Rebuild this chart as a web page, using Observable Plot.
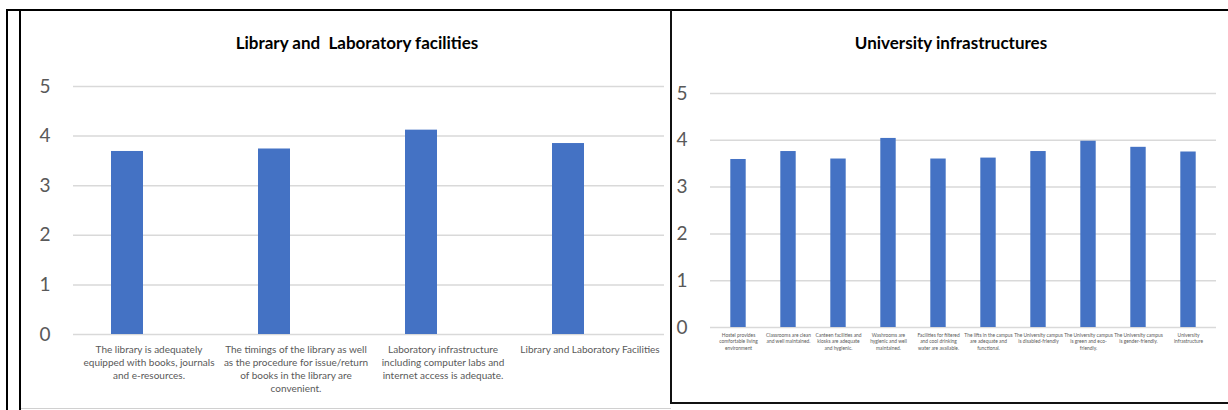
<!DOCTYPE html>
<html>
<head>
<meta charset="utf-8">
<script src="https://cdn.jsdelivr.net/npm/d3@7"></script>
<script src="https://cdn.jsdelivr.net/npm/@observablehq/plot@0.6"></script>
<style>
  html, body { margin: 0; padding: 0; background: #fff; }
  #wrap { position: relative; width: 1228px; height: 410px; overflow: hidden; font-family: Lato, "Noto Sans", sans-serif; }
  .ln { position: absolute; }
  .title { position: absolute; font-weight: bold; color: #000; white-space: pre; transform: translateX(-50%); font-family: Lato, "Noto Sans", sans-serif; }
  .panel { position: absolute; }
</style>
</head>
<body>
<div id="wrap">
  <div class="ln" style="left:6px;top:9px;width:1222px;height:2px;background:#000"></div>
  <div class="ln" style="left:6px;top:9px;width:2px;height:401px;background:#000"></div>
  <div class="ln" style="left:19px;top:9px;width:2px;height:401px;background:#000"></div>
  <div class="ln" style="left:21px;top:408px;width:650px;height:1px;background:#d0d0d0"></div>
  <div class="ln" style="left:670px;top:10px;width:2px;height:394px;background:#111"></div>
  <div class="ln" style="left:670px;top:402px;width:558px;height:2px;background:#111"></div>
  <div class="title" style="left:357px;top:32px;font-size:17px">Library and  Laboratory facilities</div>
  <div class="title" style="left:951px;top:32px;font-size:17px">University infrastructures</div>
  <div class="panel" id="left" style="left:21px;top:11px"></div>
  <div class="panel" id="right" style="left:672px;top:11px"></div>
</div>
<script>
// ---- data ----
const libCategories = [
  "The library is adequately equipped with books, journals and e-resources.",
  "The timings of the library as well as the procedure for issue/return of books in the library are convenient.",
  "Laboratory infrastructure including computer labs and internet access is adequate.",
  "Library and Laboratory Facilities"
];
const libValues = [3.69, 3.74, 4.12, 3.85];
const libTickLabels = [
  "The library is adequately\nequipped with books, journals\nand e-resources.",
  "The timings of the library as well\nas the procedure for issue/return\nof books in the library are\nconvenient.",
  "Laboratory infrastructure\nincluding computer labs and\ninternet access is adequate.",
  "Library and Laboratory Facilities"
];

const uniCategories = [
  "Hostel provides comfortable living environment",
  "Classrooms are clean and well maintained.",
  "Canteen facilities and kiosks are adequate and hygienic.",
  "Washrooms are hygienic and well maintained.",
  "Facilities for filtered and cool drinking water are available.",
  "The lifts in the campus are adequate and functional.",
  "The University campus is disabled-friendly",
  "The University campus is green and eco-friendly.",
  "The University campus is gender-friendly.",
  "University infrastructure"
];
const uniValues = [3.59, 3.76, 3.60, 4.04, 3.60, 3.62, 3.76, 3.98, 3.85, 3.75];
const uniTickLabels = [
  "Hostel provides\ncomfortable living\nenvironment",
  "Classrooms are clean\nand well maintained.",
  "Canteen facilities and\nkiosks are adequate\nand hygienic.",
  "Washrooms are\nhygienic and well\nmaintained.",
  "Facilities for filtered\nand cool drinking\nwater are available.",
  "The lifts in the campus\nare adequate and\nfunctional.",
  "The University campus\nis disabled-friendly",
  "The University campus\nis green and eco-\nfriendly.",
  "The University campus\nis gender-friendly.",
  "University\ninfrastructure"
];
const yTicks = [0, 1, 2, 3, 4, 5];

const BAR = "#4472C4";
const GRID = "#d9d9d9";
const TEXT = "#595959";
const FONT = "Lato, 'Noto Sans', sans-serif";

function chart(cats, vals, labels, opt) {
  const data = cats.map((c, i) => ({cat: c, value: vals[i], label: labels[i]}));
  const labelOf = new Map(data.map(d => [d.cat, d.label]));
  return Plot.plot({
    width: opt.width,
    height: opt.height,
    marginLeft: opt.ml,
    marginRight: opt.mr,
    marginTop: opt.mt,
    marginBottom: opt.mb,
    style: {fontFamily: FONT, background: "transparent"},
    x: {type: "band", domain: cats, padding: 0},
    y: {domain: [0, 5]},
    marks: [
      Plot.ruleY(yTicks, {stroke: GRID, strokeWidth: 1.5}),
      Plot.barY(data, {x: "cat", y: "value", fill: BAR, insetLeft: opt.il, insetRight: opt.ir}),
      Plot.axisY({ticks: yTicks, tickSize: 0, tickPadding: opt.ytp, fontSize: 19, color: TEXT, label: null, tickFormat: d => String(d)}),
      Plot.axisX({tickSize: 0, tickPadding: opt.xtp, fontSize: opt.xfs, lineHeight: opt.lh, color: TEXT, label: null, tickFormat: d => labelOf.get(d), textOverflow: null})
    ]
  });
}

document.getElementById("left").appendChild(chart(libCategories, libValues, libTickLabels, {
  width: 650, height: 396, ml: 52, mr: 7, mt: 75, mb: 73, il: 36, ir: 79, ytp: 23, xtp: 9, xfs: 10, lh: 1.3
}));
document.getElementById("right").appendChild(chart(uniCategories, uniValues, uniTickLabels, {
  width: 556, height: 391, ml: 38, mr: 12, mt: 82, mb: 75, il: 17.3, ir: 17.3, ytp: 23, xtp: 5, xfs: 4.9, lh: 1.3
}));
</script>
</body>
</html>
